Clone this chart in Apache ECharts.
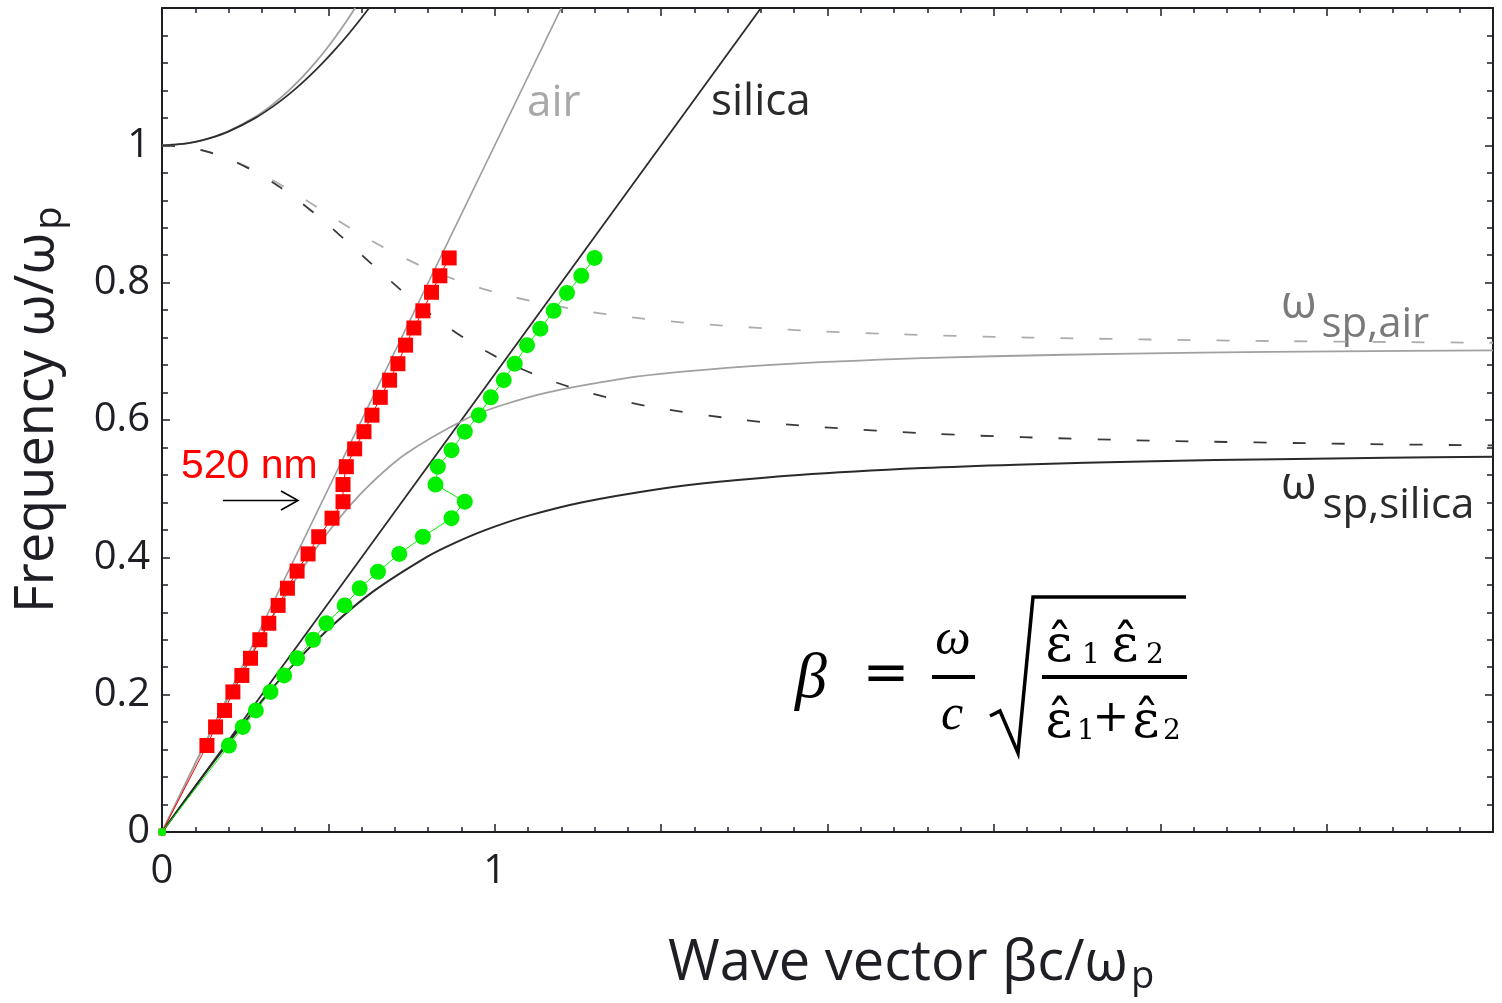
<!DOCTYPE html>
<html>
<head>
<meta charset="utf-8">
<script src="https://cdn.jsdelivr.net/npm/echarts@6/dist/echarts.min.js"></script>
<style>
html, body { margin: 0; padding: 0; background: #fff; }
#chart { width: 1502px; height: 1003px; }
</style>
</head>
<body>
<div id="chart"></div>
<script>
// points are [beta c / wp, w / wp]
var airLight = [[0, 0], [1.2, 1.2]];
var silicaLight = [[0, 0], [1.8, 1.2]];

// bound surface plasmon branch
var airSpp = [[0, 0], [0.1005, 0.1], [0.2043, 0.2], [0.316, 0.3], [0.4446, 0.4], [0.521, 0.45], [0.6124, 0.5],
  [0.7309, 0.55], [0.9071, 0.6], [1.0117, 0.62], [1.1565, 0.64], [1.3816, 0.66], [1.5559, 0.67], [1.8181, 0.68],
  [2.2843, 0.69], [2.7121, 0.695], [3.12, 0.698], [3.5349, 0.7], [4.0, 0.7015]];
var silicaSpp = [[0, 0], [0.1517, 0.1], [0.3151, 0.2], [0.4068, 0.25], [0.5103, 0.3], [0.6339, 0.35], [0.7937, 0.4],
  [0.8753, 0.42], [0.9733, 0.44], [1.0963, 0.46], [1.2602, 0.48], [1.5, 0.5], [1.6731, 0.51], [1.9138, 0.52],
  [2.2847, 0.53], [2.5668, 0.535], [2.9811, 0.54], [3.35, 0.543], [3.6812, 0.545], [4.0, 0.5465]];

// branch above the plasma frequency
var airUpper = [[0, 1], [0.0632, 1.002], [0.0996, 1.005], [0.1404, 1.01], [0.1972, 1.02], [0.2755, 1.04],
  [0.3337, 1.06], [0.3816, 1.08], [0.423, 1.1], [0.4599, 1.12], [0.4934, 1.14], [0.5244, 1.16], [0.5533, 1.18], [0.5805, 1.2]];
var silicaUpper = [[0, 1], [0.0632, 1.002], [0.0999, 1.005], [0.1412, 1.01], [0.1993, 1.02], [0.281, 1.04],
  [0.3433, 1.06], [0.3956, 1.08], [0.4415, 1.1], [0.4831, 1.12], [0.5213, 1.14], [0.5569, 1.16], [0.5905, 1.18], [0.6224, 1.2]];

// quasi-bound (imaginary beta) branch, dashed
var airQuasi = [[0, 1], [0.0633, 0.998], [0.1004, 0.995], [0.1425, 0.99], [0.2032, 0.98], [0.2927, 0.96],
  [0.3661, 0.94], [0.4332, 0.92], [0.4982, 0.9], [0.5642, 0.88], [0.634, 0.86], [0.7108, 0.84], [0.7993, 0.82],
  [0.9071, 0.8], [1.0483, 0.78], [1.2538, 0.76], [1.4031, 0.75], [1.6132, 0.74], [1.945, 0.73], [2.2057, 0.725],
  [2.6047, 0.72], [3.3362, 0.715], [4.0, 0.7125]];
var silicaQuasi = [[0, 1], [0.0633, 0.998], [0.1001, 0.995], [0.1417, 0.99], [0.2008, 0.98], [0.2855, 0.96],
  [0.3516, 0.94], [0.4088, 0.92], [0.4606, 0.9], [0.5091, 0.88], [0.5556, 0.86], [0.6012, 0.84], [0.6466, 0.82],
  [0.6928, 0.8], [0.7406, 0.78], [0.7911, 0.76], [0.8455, 0.74], [0.9057, 0.72], [0.9742, 0.7], [1.0547, 0.68],
  [1.1536, 0.66], [1.2817, 0.64], [1.4614, 0.62], [1.7463, 0.6], [1.9718, 0.59], [2.3202, 0.58], [2.5848, 0.575],
  [2.9706, 0.57], [3.6119, 0.565], [4.0, 0.563]];

// measured modes
var redPoints = [[0, 0], [0.135, 0.126], [0.161, 0.153], [0.188, 0.177], [0.213, 0.204], [0.24, 0.228], [0.266, 0.253],
  [0.294, 0.28], [0.321, 0.304], [0.349, 0.33], [0.377, 0.355], [0.406, 0.38], [0.439, 0.405], [0.471, 0.43],
  [0.511, 0.457], [0.544, 0.481], [0.544, 0.506], [0.554, 0.532], [0.579, 0.558], [0.607, 0.583], [0.631, 0.607],
  [0.656, 0.633], [0.684, 0.658], [0.709, 0.682], [0.732, 0.709], [0.757, 0.734], [0.784, 0.759], [0.81, 0.786],
  [0.835, 0.81], [0.863, 0.836]];
var greenPoints = [[0, 0], [0.201, 0.126], [0.243, 0.153], [0.282, 0.177], [0.326, 0.204], [0.367, 0.228], [0.406, 0.253],
  [0.454, 0.28], [0.494, 0.304], [0.549, 0.33], [0.594, 0.355], [0.649, 0.379], [0.713, 0.405], [0.784, 0.43],
  [0.87, 0.457], [0.91, 0.481], [0.822, 0.506], [0.829, 0.532], [0.87, 0.556], [0.91, 0.583], [0.952, 0.607],
  [0.988, 0.633], [1.027, 0.658], [1.06, 0.682], [1.097, 0.709], [1.137, 0.733], [1.177, 0.759], [1.217, 0.785],
  [1.26, 0.81], [1.3, 0.836]];

var xTickLabels = ['0', '1'];
var yTickLabels = ['0', '0.2', '0.4', '0.6', '0.8', '1'];

var ink = '#1e1e24';
var sans = '"Open Sans", "Noto Sans", sans-serif';

var chart = echarts.init(document.getElementById('chart'));

function axisBase(pos, showLabel) {
  return {
    type: 'value',
    position: pos,
    axisLine: { show: true, onZero: false, lineStyle: { color: ink, width: 2 } },
    axisTick: { show: true, inside: true, length: 8, lineStyle: { color: ink, width: 1.5 } },
    minorTick: { show: true, splitNumber: 5, length: 5, lineStyle: { color: ink, width: 1.5 } },
    splitLine: { show: false },
    axisLabel: { show: showLabel }
  };
}

var xBottom = axisBase('bottom', true);
xBottom.min = 0; xBottom.max = 4; xBottom.interval = 0.5;
xBottom.axisLabel = {
  show: true, margin: 20, color: ink, fontSize: 40, fontFamily: sans,
  formatter: function (v) { var s = String(Math.round(v * 10) / 10); return xTickLabels.indexOf(s) >= 0 ? s : ''; }
};
var xTop = axisBase('top', false);
xTop.min = 0; xTop.max = 4; xTop.interval = 0.5;

var yLeft = axisBase('left', true);
yLeft.min = 0; yLeft.max = 1.2; yLeft.interval = 0.2;
yLeft.axisTick.length = 8; yLeft.minorTick.length = 6;
yLeft.axisLabel = {
  show: true, margin: 12, color: ink, fontSize: 40, fontFamily: sans,
  formatter: function (v) { var s = String(Math.round(v * 10) / 10); return yTickLabels.indexOf(s) >= 0 ? s : ''; }
};
var yRight = axisBase('right', false);
yRight.min = 0; yRight.max = 1.2; yRight.interval = 0.2;
yRight.axisTick.length = 8; yRight.minorTick.length = 6;

function curve(data, color, width, dashed) {
  return {
    type: 'line', data: data, showSymbol: false, smooth: 0.3,
    silent: true, z: 2,
    lineStyle: { color: color, width: width, type: dashed ? [13, 26] : 'solid' }
  };
}

var option = {
  animation: false,
  backgroundColor: '#ffffff',
  grid: { left: 162, right: 9, top: 8, bottom: 171 },
  xAxis: [xBottom, xTop],
  yAxis: [yLeft, yRight],
  series: [
    curve(airLight, '#9c9c9c', 1.7, false),
    curve(silicaLight, '#2a2a2a', 1.8, false),
    curve(airSpp, '#a0a0a0', 1.8, false),
    curve(silicaSpp, '#2a2a2a', 2, false),
    curve(airUpper, '#a0a0a0', 1.8, false),
    curve(silicaUpper, '#2e2e2e', 1.8, false),
    curve(airQuasi, '#acacac', 1.8, true),
    curve(silicaQuasi, '#3a3a3a', 1.8, true),
    {
      type: 'line', data: redPoints, symbol: 'rect', showAllSymbol: true, z: 5,
      symbolSize: function (v, p) { return p.dataIndex === 0 ? 7 : 15; },
      itemStyle: { color: '#ff0000' },
      lineStyle: { color: '#ff0000', width: 1 }
    },
    {
      type: 'line', data: greenPoints, symbol: 'circle', showAllSymbol: true, z: 6,
      symbolSize: function (v, p) { return p.dataIndex === 0 ? 8 : 16; },
      itemStyle: { color: '#00f000' },
      lineStyle: { color: '#00f000', width: 1 }
    }
  ],
  graphic: [
    { type: 'text', x: 527, y: 103, style: { text: 'air', font: '44px ' + sans, fill: '#a8a8a8', verticalAlign: 'middle' } },
    { type: 'text', x: 711, y: 102, style: { text: 'silica', font: '44px ' + sans, fill: '#2a2a2a', verticalAlign: 'middle' } },
    {
      type: 'text', x: 1281, y: 264,
      style: {
        text: '{w|ω}{s|sp,air}', align: 'left', verticalAlign: 'top',
        rich: {
          w: { fontSize: 46, fontFamily: sans, fill: '#7a7a7a' },
          s: { fontSize: 42, fontFamily: sans, fill: '#7a7a7a', padding: [40, 0, 0, 5] }
        }
      }
    },
    {
      type: 'text', x: 1281, y: 445,
      style: {
        text: '{w|ω}{s|sp,silica}', align: 'left', verticalAlign: 'top',
        rich: {
          w: { fontSize: 46, fontFamily: sans, fill: '#2a2a2a' },
          s: { fontSize: 42, fontFamily: sans, fill: '#2a2a2a', padding: [40, 0, 0, 6] }
        }
      }
    },
    { type: 'text', x: 181, y: 467, style: { text: '520 nm', font: '41px "Liberation Sans", Arial, sans-serif', fill: '#ff0000', verticalAlign: 'middle' } },
    { type: 'line', shape: { x1: 223, y1: 500.5, x2: 297, y2: 500.5 }, style: { stroke: '#000', lineWidth: 1.6 } },
    { type: 'polyline', shape: { points: [[281, 491], [298, 500.5], [281, 510]] }, style: { stroke: '#000', lineWidth: 1.6, fill: null } },
    // axis titles
    {
      type: 'text', x: 668, y: 932,
      style: {
        text: '{m|Wave vector βc/ω}{s|p}', align: 'left', verticalAlign: 'top',
        rich: {
          m: { fontSize: 56, fontFamily: sans, fill: ink },
          s: { fontSize: 38, fontFamily: sans, fill: ink, padding: [26, 0, 0, 3] }
        }
      }
    },
    {
      type: 'text', x: 6, y: 613, rotation: Math.PI / 2,
      style: {
        text: '{m|Frequency ω/ω}{s|p}', align: 'left', verticalAlign: 'top',
        rich: {
          m: { fontSize: 54, fontFamily: sans, fill: ink },
          s: { fontSize: 38, fontFamily: sans, fill: ink, padding: [25, 0, 0, 3] }
        }
      }
    },
    // formula
    { type: 'text', x: 795, y: 680, style: { text: 'β', font: 'italic 64px "Liberation Serif", serif', fill: '#000', verticalAlign: 'middle' } },
    { type: 'text', x: 886, y: 676, style: { text: '=', font: '56px "DejaVu Sans", sans-serif', fill: '#000', align: 'center', verticalAlign: 'middle' } },
    { type: 'text', x: 953, y: 641, style: { text: 'ω', font: 'italic 50px "Liberation Serif", serif', fill: '#000', align: 'center', verticalAlign: 'middle' } },
    { type: 'rect', shape: { x: 932, y: 675, width: 43, height: 4 }, style: { fill: '#000' } },
    { type: 'text', x: 952, y: 716, style: { text: 'c', font: 'italic 50px "Liberation Serif", serif', fill: '#000', align: 'center', verticalAlign: 'middle' } },
    { type: 'polyline', shape: { points: [[990, 716], [1000, 711], [1018, 753], [1033, 597], [1186, 597]] }, style: { stroke: '#000', lineWidth: 3.5, fill: null, lineJoin: 'miter' } },
    { type: 'rect', shape: { x: 1042, y: 675, width: 145, height: 4 }, style: { fill: '#000' } },
    { type: 'text', x: 1059, y: 647, style: { text: 'ε\u0302', font: '52px "DejaVu Serif", serif', fill: '#000', align: 'center', verticalAlign: 'middle' } },
    { type: 'text', x: 1091, y: 656, style: { text: '1', font: '28px "DejaVu Serif", serif', fill: '#000', align: 'center', verticalAlign: 'middle' } },
    { type: 'text', x: 1125, y: 647, style: { text: 'ε\u0302', font: '52px "DejaVu Serif", serif', fill: '#000', align: 'center', verticalAlign: 'middle' } },
    { type: 'text', x: 1155, y: 656, style: { text: '2', font: '28px "DejaVu Serif", serif', fill: '#000', align: 'center', verticalAlign: 'middle' } },
    { type: 'text', x: 1059, y: 723, style: { text: 'ε\u0302', font: '52px "DejaVu Serif", serif', fill: '#000', align: 'center', verticalAlign: 'middle' } },
    { type: 'text', x: 1086, y: 732, style: { text: '1', font: '28px "DejaVu Serif", serif', fill: '#000', align: 'center', verticalAlign: 'middle' } },
    { type: 'text', x: 1111, y: 720, style: { text: '+', font: '44px "DejaVu Serif", serif', fill: '#000', align: 'center', verticalAlign: 'middle' } },
    { type: 'text', x: 1146, y: 723, style: { text: 'ε\u0302', font: '52px "DejaVu Serif", serif', fill: '#000', align: 'center', verticalAlign: 'middle' } },
    { type: 'text', x: 1172, y: 732, style: { text: '2', font: '28px "DejaVu Serif", serif', fill: '#000', align: 'center', verticalAlign: 'middle' } }
  ]
};

chart.setOption(option);
</script>
</body>
</html>
